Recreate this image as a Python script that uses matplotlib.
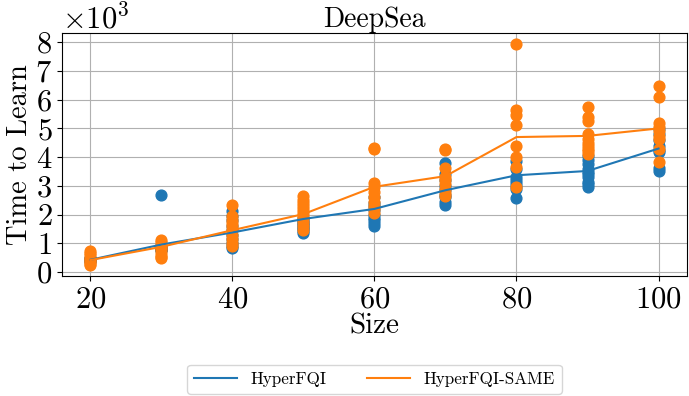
import numpy as np
import matplotlib
matplotlib.use("Agg")
from matplotlib import pyplot as plt

plt.rcParams['font.family'] = 'serif'
plt.rcParams['font.serif'] = ['cmr10']
plt.rcParams['mathtext.fontset'] = 'cm'
plt.rcParams['axes.unicode_minus'] = False
plt.rcParams['axes.formatter.use_mathtext'] = True

sizes = [20, 30, 40, 50, 60, 70, 80, 90, 100]

# per-seed time to learn
fqi_runs = [
    [450, 400, 500, 380, 420, 470, 440, 410],
    [2700, 900, 850, 800, 780, 820, 760, 870, 790, 830],
    [2120, 1950, 1800, 1600, 1450, 1300, 1150, 1000, 900, 840],
    [1900, 1800, 1750, 1700, 1650, 1600, 1550, 1500, 1420, 1370],
    [2600, 2400, 2300, 2150, 2000, 1900, 1800, 1700, 1620],
    [3810, 3400, 3200, 3000, 2850, 2700, 2600, 2450, 2350],
    [3870, 3600, 3300, 3200, 3100, 3000, 2900, 2590],
    [4040, 3900, 3750, 3600, 3500, 3400, 3300, 3150, 3050, 2960],
    [4970, 4800, 4600, 4400, 4250, 4170, 3640, 3520],
]
same_runs = [
    [720, 650, 580, 500, 450, 400, 350, 300, 250],
    [1130, 1050, 950, 900, 850, 800, 700, 600, 520, 490],
    [2320, 1950, 1800, 1700, 1600, 1450, 1300, 1150, 1000, 900],
    [2640, 2500, 2400, 2300, 2200, 2100, 2000, 1900, 1750, 1600, 1480],
    [4330, 4270, 3110, 2950, 2800, 2600, 2450, 2300, 2180, 2070],
    [4300, 4250, 3630, 3300, 3200, 3050, 2900, 2750, 2640],
    [7940, 5630, 5460, 5110, 4390, 4000, 3660, 2960],
    [5730, 5410, 5260, 4800, 4620, 4500, 4400, 4300, 4200, 4100],
    [6480, 6080, 5200, 5040, 4900, 4750, 4620, 4270, 3830],
]

# mean curves
fqi_mean = [430, 960, 1380, 1850, 2200, 2850, 3370, 3520, 4300]
same_mean = [420, 880, 1460, 2020, 2970, 3340, 4700, 4740, 5000]

blue = '#1f77b4'
orange = '#ff7f0e'

fig, ax = plt.subplots(figsize=(6.89, 3.96), dpi=100)
fig.subplots_adjust(left=0.09, right=0.997, top=0.917, bottom=0.303)

for s, runs in zip(sizes, fqi_runs):
    ax.scatter([s] * len(runs), runs, s=60, color=blue, zorder=2)
for s, runs in zip(sizes, same_runs):
    ax.scatter([s] * len(runs), runs, s=60, color=orange, zorder=2)

ax.plot(sizes, fqi_mean, color=blue, lw=1.5, label='HyperFQI', zorder=3)
ax.plot(sizes, same_mean, color=orange, lw=1.5, label='HyperFQI-SAME', zorder=3)

ax.grid(True, color='#b0b0b0', lw=0.8)
ax.set_axisbelow(True)
ax.ticklabel_format(axis='y', style='sci', scilimits=(3, 3))
ax.set_yticks(np.arange(0, 8001, 1000))
ax.tick_params(labelsize=22)
ax.yaxis.get_offset_text().set_fontsize(22)
ax.set_xlabel('Size', fontsize=21, labelpad=0)
ax.set_ylabel('Time to Learn', fontsize=20.5, labelpad=2)
ax.set_title('DeepSea', fontsize=20, pad=4)

ax.legend(loc='upper center', bbox_to_anchor=(0.5, -0.33), ncol=2,
          fontsize=12.3, handlelength=2.5, columnspacing=2.4)

fig.savefig('out.png', dpi=100)
